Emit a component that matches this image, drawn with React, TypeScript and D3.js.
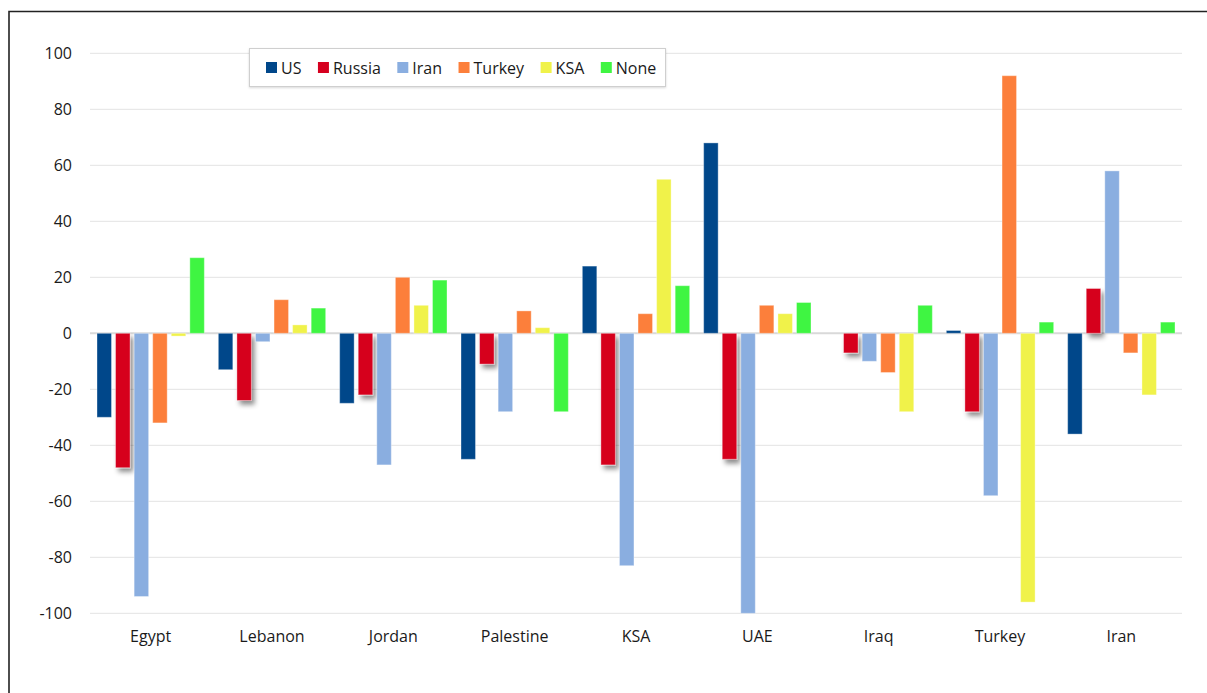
import React, { useEffect, useRef } from "react";
import * as d3 from "d3";

const categories = ["Egypt", "Lebanon", "Jordan", "Palestine", "KSA", "UAE", "Iraq", "Turkey", "Iran"];
const seriesNames = ["US", "Russia", "Iran", "Turkey", "KSA", "None"];
const seriesColors = ["#00478a", "#d6001f", "#8aaee0", "#fc7f3b", "#f0f24a", "#3ff542"];

const usValues = [-30, -13, -25, -45, 24, 68, 0, 1, -36];
const russiaValues = [-48, -24, -22, -11, -47, -45, -7, -28, 16];
const iranValues = [-94, -3, -47, -28, -83, -100, -10, -58, 58];
const turkeyValues = [-32, 12, 20, 8, 7, 10, -14, 92, -7];
const ksaValues = [-1, 3, 10, 2, 55, 7, -28, -96, -22];
const noneValues = [27, 9, 19, -28, 17, 11, 10, 4, 4];

const yTicks = [100, 80, 60, 40, 20, 0, -20, -40, -60, -80, -100];

const allSeries = [usValues, russiaValues, iranValues, turkeyValues, ksaValues, noneValues];

const W = 1207;
const H = 693;
const FONT = "'Open Sans', 'Noto Sans', sans-serif";

export default function App() {
  const ref = useRef<SVGSVGElement>(null);

  useEffect(() => {
    const svg = d3.select(ref.current);
    svg.selectAll("*").remove();

    const defs = svg.append("defs");
    const f = defs.append("filter").attr("id", "sh").attr("x", "-50%").attr("y", "-50%").attr("width", "200%").attr("height", "200%");
    f.append("feDropShadow").attr("dx", 3).attr("dy", 4).attr("stdDeviation", 2.5).attr("flood-color", "#000").attr("flood-opacity", 0.45);
    const f2 = defs.append("filter").attr("id", "lsh").attr("x", "-10%").attr("y", "-30%").attr("width", "120%").attr("height", "160%");
    f2.append("feDropShadow").attr("dx", 0).attr("dy", 1).attr("stdDeviation", 1).attr("flood-color", "#000").attr("flood-opacity", 0.15);

    svg.append("rect").attr("width", W).attr("height", H).attr("fill", "#fff");

    // frame
    svg.append("path").attr("d", `M9,${H + 5} L9,11.5 L${W + 5},11.5`).attr("fill", "none").attr("stroke", "#222").attr("stroke-width", 1.6);

    const x0 = d3.scaleBand<string>().domain(categories).range([90, 1182]).paddingInner(0).paddingOuter(0);
    const x1 = d3.scaleBand<string>().domain(seriesNames).range([7, x0.bandwidth() - 7]).paddingInner(0.22).paddingOuter(0);
    const y = d3.scaleLinear().domain([-100, 100]).range([613.3, 53.3]);

    const grid = svg.append("g");
    yTicks.forEach((t) => {
      grid.append("line")
        .attr("x1", 90).attr("x2", 1182)
        .attr("y1", y(t)).attr("y2", y(t))
        .attr("stroke", t === 0 ? "#d9d9d9" : "#e3e3e3")
        .attr("stroke-width", t === 0 ? 2 : 1);
      grid.append("text")
        .attr("x", 72).attr("y", y(t)).attr("dy", "0.35em")
        .attr("text-anchor", "end")
        .attr("font-family", FONT).attr("font-size", 16).attr("fill", "#1a1a1a")
        .text(String(t));
    });

    const bars = svg.append("g");
    allSeries.forEach((vals, si) => {
      const g = bars.append("g");
      if (si === 1) g.attr("filter", "url(#sh)");
      vals.forEach((v, ci) => {
        const xx = (x0(categories[ci]) as number) + (x1(seriesNames[si]) as number);
        const top = Math.min(y(v), y(0));
        const h = Math.abs(y(v) - y(0));
        if (h < 0.5) return;
        g.append("rect")
          .attr("x", xx).attr("y", top)
          .attr("width", x1.bandwidth()).attr("height", h)
          .attr("fill", seriesColors[si])
          .attr("stroke", "rgba(255,255,255,0.35)")
          .attr("stroke-width", 1);
      });
    });

    // category labels
    categories.forEach((c) => {
      svg.append("text")
        .attr("x", (x0(c) as number) + x0.bandwidth() / 2)
        .attr("y", 642)
        .attr("text-anchor", "middle")
        .attr("font-family", FONT).attr("font-size", 16).attr("fill", "#1a1a1a")
        .text(c);
    });

    // legend
    const lg = svg.append("g");
    const box = lg.append("rect")
      .attr("x", 249.5).attr("y", 48.5).attr("height", 38)
      .attr("fill", "#fff").attr("stroke", "#cfcfcf").attr("stroke-width", 1)
      .attr("filter", "url(#lsh)");
    let cx = 266;
    seriesNames.forEach((s, i) => {
      lg.append("rect").attr("x", cx).attr("y", 62).attr("width", 11).attr("height", 11).attr("fill", seriesColors[i]);
      const t = lg.append("text")
        .attr("x", cx + 15).attr("y", 74)
        .attr("font-family", FONT).attr("font-size", 16).attr("fill", "#1a1a1a")
        .text(s);
      const w = (t.node() as SVGTextElement).getComputedTextLength();
      cx = cx + 15 + w + 16.5;
    });
    box.attr("width", 416);
  }, []);

  return (
    <svg ref={ref} width={W} height={H} style={{ position: "absolute", left: 0, top: 0, display: "block" }} />
  );
}
